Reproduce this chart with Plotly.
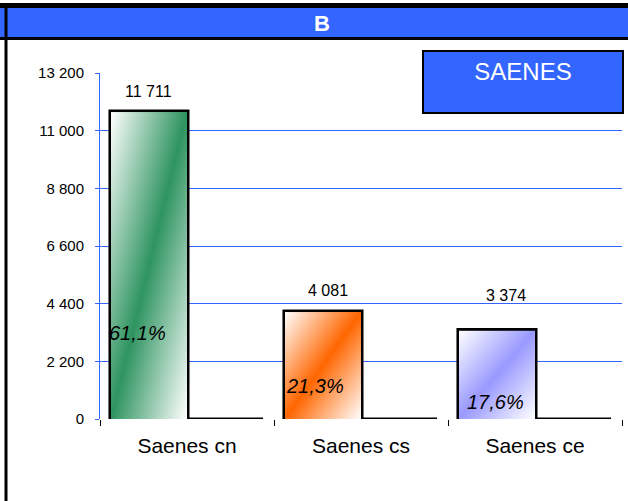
import base64
import plotly.graph_objects as go

categories = ["Saenes cn", "Saenes cs", "Saenes ce"]
values = [11711, 4081, 3374]
second_values = [0, 0, 0]
pct_labels = ["61,1%", "21,3%", "17,6%"]
legend_title = "SAENES"
panel_title = "B"
y_ticks = [0, 2200, 4400, 6600, 8800, 11000, 13200]

bar_colors = ["#2E9460", "#FF6600", "#9999FF"]
blue = "#3366FF"
font = "Arial, Liberation Sans, sans-serif"

# plot area in pixels (used only for the frame decorations)
L, R, T, B = 100, 622, 73, 419
def px(x):
    return (x - L) / (R - L)
def py(y):
    return (B - y) / (B - T)

bargap = 0.126
bw = (1 - bargap) / 2


def grad_uri(color):
    svg = ('<svg xmlns="http://www.w3.org/2000/svg" viewBox="0 0 100 100" preserveAspectRatio="none">'
           '<defs><linearGradient id="g" x1="0" y1="0" x2="1" y2="1">'
           '<stop offset="0" stop-color="#ffffff"/>'
           '<stop offset="0.5" stop-color="%s"/>'
           '<stop offset="1" stop-color="#ffffff"/>'
           '</linearGradient></defs>'
           '<rect x="0" y="0" width="100" height="100" fill="url(#g)"/></svg>') % color
    return "data:image/svg+xml;base64," + base64.b64encode(svg.encode()).decode()


fig = go.Figure()
fig.add_trace(go.Bar(x=categories, y=values, name="Saenes",
                     marker=dict(color=bar_colors, line=dict(color="black", width=5)),
                     hoverinfo="skip"))
fig.add_trace(go.Bar(x=categories, y=second_values, name="",
                     marker=dict(color="black", line=dict(color="black", width=3)),
                     hoverinfo="skip"))

# gradient fill over each coloured bar
images = []
for i, v in enumerate(values):
    images.append(dict(source=grad_uri(bar_colors[i]), xref="x", yref="y",
                       x=i - bw, y=v, sizex=bw, sizey=v, xanchor="left", yanchor="top",
                       sizing="stretch", layer="above"))

anns = []
val_shift = [(0, 10), (5, 11), (9, 25)]
pct_shift = [(-11, 86), (-8, 33), (-1, 17)]
for i, v in enumerate(values):
    anns.append(dict(x=i - bw / 2, y=v, xref="x", yref="y", text=f"{v:,}".replace(",", " "),
                     showarrow=False, yanchor="bottom", xshift=val_shift[i][0], yshift=val_shift[i][1],
                     font=dict(family=font, size=16, color="black")))
    anns.append(dict(x=i - bw / 2, y=0, xref="x", yref="y", text="<i>" + pct_labels[i] + "</i>",
                     showarrow=False, yanchor="middle", xshift=pct_shift[i][0], yshift=pct_shift[i][1],
                     font=dict(family=font, size=20, color="black")))

anns.append(dict(x=px(322), y=py(23), xref="paper", yref="paper", text="<b>" + panel_title + "</b>",
                 showarrow=False, xanchor="center", yanchor="middle",
                 font=dict(family=font, size=22, color="white")))
anns.append(dict(x=px(523), y=py(82), xref="paper", yref="paper", text=legend_title,
                 showarrow=False, xanchor="center", yanchor="middle",
                 width=186, height=48, valign="top", align="center",
                 bgcolor=blue, bordercolor="black", borderwidth=2, borderpad=6,
                 font=dict(family=font, size=24, color="white")))

shapes = [
    dict(type="rect", xref="paper", yref="paper", x0=px(-5), x1=px(640), y0=py(40), y1=py(3),
         fillcolor="black", line=dict(width=0), layer="below"),
    dict(type="rect", xref="paper", yref="paper", x0=px(-5), x1=px(640), y0=py(37), y1=py(8),
         fillcolor=blue, line=dict(width=0), layer="below"),
    dict(type="line", xref="paper", yref="paper", x0=px(6), x1=px(6), y0=py(510), y1=py(8),
         line=dict(color="black", width=3), layer="below"),
]

fig.update_layout(
    width=628, height=501, autosize=False,
    margin=dict(l=L, r=628 - R, t=T, b=501 - B),
    paper_bgcolor="white", plot_bgcolor="white",
    barmode="group", bargap=bargap, bargroupgap=0,
    showlegend=False, separators=", ",
    font=dict(family=font, color="black"),
    images=images, annotations=anns, shapes=shapes,
)
fig.update_xaxes(showgrid=False, zeroline=False, showline=False,
                 ticks="outside", tickson="boundaries", ticklen=6, tickcolor="black", tickwidth=1,
                 ticklabelstandoff=12,
                 tickfont=dict(family=font, size=21, color="black"))
fig.update_yaxes(range=[0, 13200], tickvals=y_ticks, tickformat=",d",
                 showgrid=True, gridcolor=blue, gridwidth=1, zeroline=False,
                 showline=True, linecolor=blue, linewidth=1,
                 ticks="outside", ticklen=4, tickcolor=blue, ticklabelstandoff=8,
                 tickfont=dict(family=font, size=15, color="black"))

fig.write_html("out.html", config={"displayModeBar": False},
               post_script="document.body.style.margin='0px';")
